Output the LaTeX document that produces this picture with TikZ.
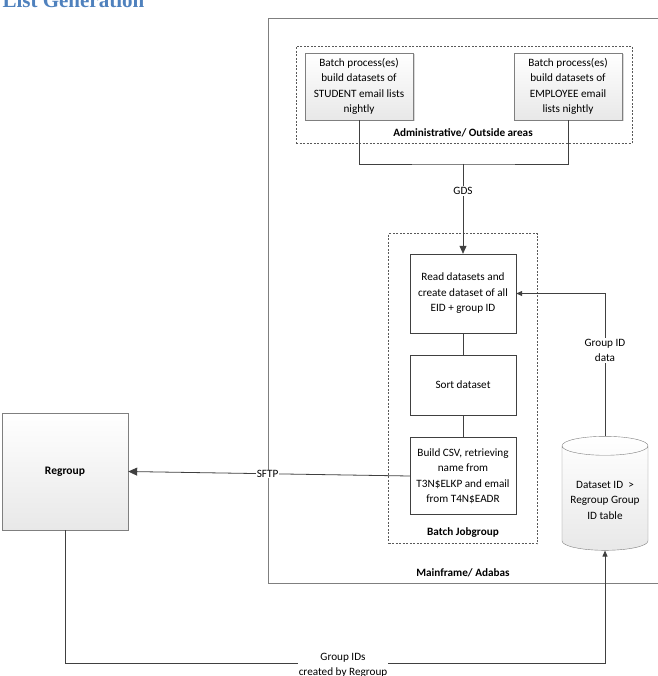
\documentclass[tikz,border=0pt]{standalone}
\usepackage{fontspec}
\setmainfont{Carlito}
\newfontfamily\titlefont{Liberation Serif}
\usetikzlibrary{shapes.geometric,arrows.meta,shadows}
\definecolor{titleblue}{HTML}{4F81BD}
\definecolor{edgegray}{HTML}{7F7F7F}
\tikzstyle{block} = [draw=edgegray, rectangle, top color=white, bottom color=black!9,
    align=center, font=\fontsize{11.2}{15.5}\selectfont]
\tikzstyle{stepbox} = [draw=black!75, fill=white, rectangle, minimum width=106pt,
    align=center, font=\fontsize{11.2}{15.5}\selectfont]
\tikzstyle{frame} = [draw=black!65, dash pattern=on 2pt off 1.5pt, rectangle]
\tikzstyle{link} = [draw=black!75, line width=0.8pt]
\tikzstyle{lbl} = [font=\fontsize{11.2}{15}\selectfont, align=center, fill=white, inner sep=1pt]
\tikzstyle{arealbl} = [font=\bfseries\fontsize{11.2}{13}\selectfont]

\begin{document}
\begin{tikzpicture}[x=1pt,y=-1pt]
\useasboundingbox (0,0) rectangle (657,676);

\node[anchor=base west, text=titleblue, font=\titlefont\bfseries\fontsize{21}{24}\selectfont] (title) at (-1,7.5) {List Generation};

% outer area
\draw[draw=edgegray, line width=0.9pt] (700,18) -- (268,18) -- (268,583) -- (700,583);
\node[arealbl] (mainlbl) at (463,573) {Mainframe/ Adabas};

\node[frame, minimum width=336pt, minimum height=97pt] (adminframe) at (464,95) {};
\node[arealbl] (adminlbl) at (463,133) {Administrative/ Outside areas};

\node[frame, minimum width=149pt, minimum height=310pt] (batchframe) at (463,388.5) {};
\node[arealbl] (batchlbl) at (463,533) {Batch Jobgroup};

\node[block, drop shadow={opacity=0.3, shadow xshift=1.5pt, shadow yshift=-1.5pt},
  minimum width=108pt, minimum height=67pt, name=student] at (359,86.5)
  {Batch process(es)\\build datasets of\\STUDENT email lists\\nightly};
\node[block, drop shadow={opacity=0.3, shadow xshift=1.5pt, shadow yshift=-1.5pt},
  minimum width=108pt, minimum height=67pt, name=employee] at (568,86.5)
  {Batch process(es)\\build datasets of\\EMPLOYEE email\\lists nightly};

\node[stepbox, minimum height=79pt, name=read] at (463,293.5) {Read datasets and\\create dataset of all\\EID + group ID};
\node[stepbox, minimum height=60pt, name=sort] at (463,385) {Sort dataset};
\node[stepbox, minimum height=77pt, name=build] at (463,476) {Build CSV, retrieving\\name from\\T3N\$ELKP and email\\from T4N\$EADR};

\node[block, minimum width=126pt, minimum height=117pt, font=\bfseries\fontsize{11.5}{13}\selectfont,
  name=regroup] at (65,471.5) {Regroup};

\node[draw=edgegray, cylinder, shape border rotate=90, aspect=0.25, top color=white, bottom color=black!9,
  minimum width=86pt, minimum height=114pt, align=center, font=\fontsize{11.2}{15.5}\selectfont,
  name=tank] at (605,500) {Dataset ID\ \ >\\Regroup Group\\ID table};

\coordinate (gds) at (463,164);
\coordinate (botleft) at (65,663);

\draw[link] (student.south) |- (gds) -| (employee.south);
\draw[link, -{Triangle[length=8pt,width=7pt]}] (gds) -- node[lbl, pos=0.3] {GDS} (read.north);
\draw[link] (read) -- (sort);
\draw[link] (sort) -- (build);
\draw[link, -{Triangle[length=6pt,width=5pt]}] (tank.north) |- node[lbl, pos=0.3] {Group ID\\data} (read.east);
\draw[link, -{Triangle[length=9pt,width=8pt]}] (build.west) -- node[lbl, pos=0.505, inner sep=0.5pt] {SFTP} (regroup.east);
\draw[link, -{Triangle[length=6pt,width=5pt]}] (regroup.south) |- (botleft -| tank.south) -- (tank.south);
\node[lbl, fill=white] (gidlbl) at (343,665) {Group IDs\\created by Regroup};

\end{tikzpicture}
\end{document}
